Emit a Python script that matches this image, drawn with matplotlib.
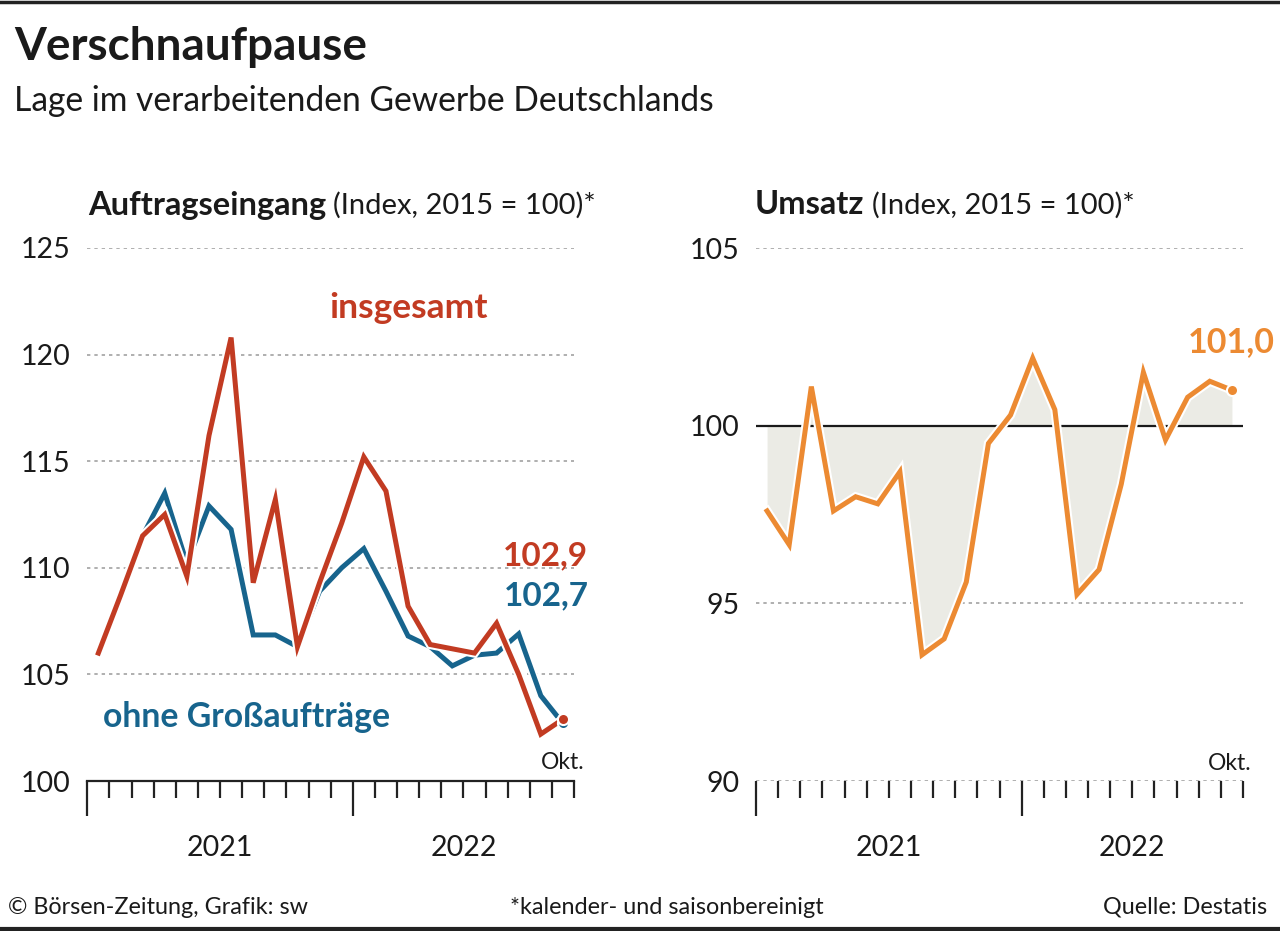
import numpy as np
import matplotlib.pyplot as plt
import matplotlib.patheffects as pe
from matplotlib.transforms import blended_transform_factory

plt.rcParams['font.family'] = ['Lato', 'DejaVu Sans']

# Monatswerte Jan 2021 - Okt 2022
months = np.arange(22)
auftrag_gesamt = [106.0, 108.7, 111.5, 112.5, 109.6, 116.2, 120.8, 109.3, 113.2, 106.3, 109.3,
                  112.1, 115.2, 113.6, 108.2, 106.4, 106.2, 106.0, 107.4, 105.0, 102.2, 102.9]
auftrag_ohne_gross = [106.0, 108.8, 111.5, 113.5, 110.2, 112.9, 111.8, 106.85, 106.85, 106.3, 108.9,
                      110.0, 110.9, 108.9, 106.8, 106.3, 105.4, 105.9, 106.0, 106.9, 104.0, 102.7]
umsatz = [97.6, 96.65, 101.1, 97.6, 98.0, 97.8, 98.7, 93.55, 94.0, 95.6, 99.5,
          100.3, 101.9, 100.45, 95.25, 95.95, 98.35, 101.5, 99.6, 100.8, 101.25, 101.0]
years = ['2021', '2022']
left_yticks = [100, 105, 110, 115, 120, 125]
right_yticks = [90, 95, 100, 105]

RED = '#c23b22'
BLUE = '#17648d'
ORANGE = '#ec8a32'
FILL = '#ebebe5'
GRID = '#9a9a9a'

W, H = 1280, 931
fig = plt.figure(figsize=(W / 100, H / 100), dpi=100)


def px(x, y):
    return x / W, 1 - y / H


def halo(lw):
    return [pe.Stroke(linewidth=lw + 3, foreground='white'), pe.Normal()]


def setup_axis(ax, ymin, ymax, yticks, solid_base):
    ax.set_xlim(-0.5, 21.5)
    ax.set_ylim(ymin, ymax)
    for s in ['top', 'right', 'left']:
        ax.spines[s].set_visible(False)
    if solid_base:
        ax.spines['bottom'].set_linewidth(1.6)
        ax.spines['bottom'].set_color('#222222')
    else:
        ax.spines['bottom'].set_visible(False)
    ax.set_yticks(yticks)
    ax.set_yticklabels([str(t) for t in yticks])
    ax.tick_params(axis='y', length=0, pad=12, labelsize=20.5, labelcolor='#1a1a1a')
    for t in yticks:
        if t == ymin and solid_base:
            continue
        ax.axhline(t, color=GRID, lw=1.1, linestyle=(0, (2.2, 2.6)), zorder=0)
    ax.set_xticks([-0.5, 11.5])
    ax.set_xticks([b for b in np.arange(-0.5, 22, 1) if b not in (-0.5, 11.5)], minor=True)
    ax.set_xticklabels([])
    ax.tick_params(axis='x', which='major', length=25, width=1.6, color='#222222', direction='out')
    ax.tick_params(axis='x', which='minor', length=12.5, width=1.6, color='#222222', direction='out')
    tr = blended_transform_factory(ax.transData, ax.transAxes)
    ax.text(5.5, -0.126, years[0], transform=tr, ha='center', va='center', fontsize=20.5, color='#1a1a1a')
    ax.text(16.5, -0.126, years[1], transform=tr, ha='center', va='center', fontsize=20.5, color='#1a1a1a')
    ax.patch.set_alpha(0)


# linkes Panel: Auftragseingang
x0, y_top = px(87.3, 248)
x1, y_bot = px(574, 781)
ax1 = fig.add_axes([x0, y_bot, x1 - x0, y_top - y_bot])
setup_axis(ax1, 100, 125, left_yticks, True)
ax1.plot(months, auftrag_ohne_gross, color=BLUE, lw=3.6, solid_joinstyle='miter',
         path_effects=halo(3.6), zorder=3, clip_on=False)
ax1.plot(months, auftrag_gesamt, color=RED, lw=3.6, solid_joinstyle='miter',
         path_effects=halo(3.6), zorder=4, clip_on=False)
ax1.plot(months[-1], auftrag_ohne_gross[-1], 'o', color=BLUE, ms=8, mec='white', mew=1.5, zorder=5, clip_on=False)
ax1.plot(months[-1], auftrag_gesamt[-1], 'o', color=RED, ms=8, mec='white', mew=1.5, zorder=6, clip_on=False)
ax1.text(14.0, 122.2, 'insgesamt', color=RED, fontsize=25.5, fontweight='bold', ha='center', va='center')
ax1.text(0.2, 103.0, 'ohne Großaufträge', color=BLUE, fontsize=24.3, fontweight='bold', ha='left', va='center')
ax1.text(22.15, 110.56, '102,9', color=RED, fontsize=24, fontweight='bold', ha='right', va='center')
ax1.text(22.15, 108.7, '102,7', color=BLUE, fontsize=24, fontweight='bold', ha='right', va='center')
ax1.text(21.0, 100.85, 'Okt.', color='#1a1a1a', fontsize=16.5, ha='center', va='center')

# rechtes Panel: Umsatz
x0, y_top = px(756, 248)
x1, y_bot = px(1243, 781)
ax2 = fig.add_axes([x0, y_bot, x1 - x0, y_top - y_bot])
setup_axis(ax2, 90, 105, right_yticks, False)
ax2.fill_between(months, umsatz, 100, color=FILL, lw=0, zorder=1)
ax2.axhline(100, color='#1a1a1a', lw=1.6, zorder=2)
ax2.plot(months, umsatz, color=ORANGE, lw=3.6, solid_joinstyle='miter',
         path_effects=halo(3.6), zorder=4, clip_on=False)
ax2.plot(months[-1], umsatz[-1], 'o', color=ORANGE, ms=8, mec='white', mew=1.5, zorder=6, clip_on=False)
ax2.text(22.93, 102.34, '101,0', color=ORANGE, fontsize=24.5, fontweight='bold', ha='right', va='center')
ax2.text(20.9, 90.5, 'Okt.', color='#1a1a1a', fontsize=16.5, ha='center', va='center')

# Titel
fig.text(*px(14, 47), 'Verschnaufpause', fontsize=33, fontweight='bold', color='#1a1a1a', va='center', ha='left')
fig.text(*px(14, 101), 'Lage im verarbeitenden Gewerbe Deutschlands', fontsize=24.2, color='#1a1a1a',
         va='center', ha='left')

renderer = fig.canvas.get_renderer()


def panel_title(xp, yp, bold, rest):
    t = fig.text(*px(xp, yp), bold, fontsize=23.5, fontweight='bold', color='#1a1a1a', va='center', ha='left')
    bb = t.get_window_extent(renderer)
    fig.text((bb.x1 + 7) / W, px(0, yp)[1], rest, fontsize=21, color='#1a1a1a', va='center', ha='left')


panel_title(88, 205, 'Auftragseingang', '(Index, 2015 = 100)*')
panel_title(755, 205, 'Umsatz', '(Index, 2015 = 100)*')

# Fußzeile
fig.text(*px(8, 907), '© Börsen-Zeitung, Grafik: sw', fontsize=16.8, color='#1a1a1a', va='center', ha='left')
fig.text(*px(667, 907), '*kalender- und saisonbereinigt', fontsize=16.8, color='#1a1a1a', va='center', ha='center')
fig.text(*px(1267, 907), 'Quelle: Destatis', fontsize=16.8, color='#1a1a1a', va='center', ha='right')

# Rahmenlinien oben und unten
fig.add_artist(plt.Line2D([0, 1], [1 - 1.5 / H, 1 - 1.5 / H], color='#222222', lw=2.5))
fig.add_artist(plt.Line2D([0, 1], [2.5 / H, 2.5 / H], color='#222222', lw=3))

fig.savefig('out.png', dpi=100, facecolor='white')
